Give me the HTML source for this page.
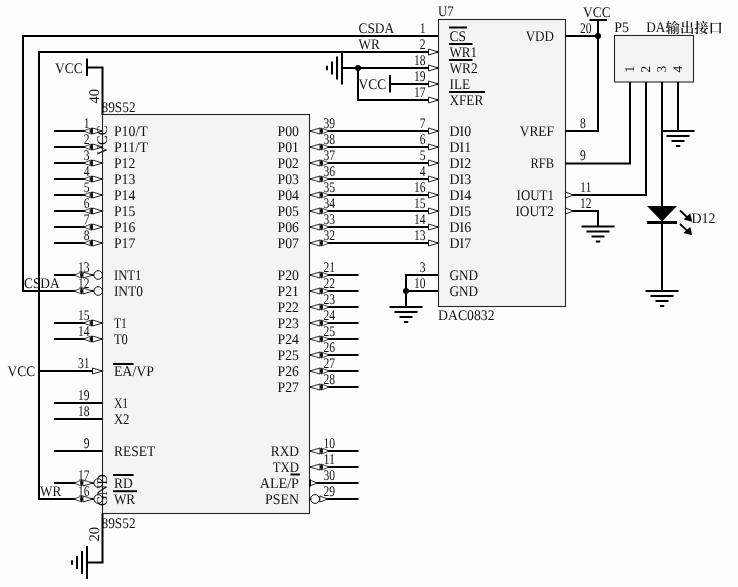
<!DOCTYPE html>
<html><head><meta charset="utf-8"><title>DAC0832 schematic</title>
<style>
html,body{margin:0;padding:0;background:#fdfdfd;}
body{width:738px;height:587px;overflow:hidden;}
svg{display:block;}
text{font-family:"Liberation Serif",serif;fill:#111;text-rendering:geometricPrecision;}
svg{will-change:transform;transform:translateZ(0);}
</style></head><body>
<svg width="738" height="587" viewBox="0 0 738 587">
<rect width="738" height="587" fill="#fdfdfd"/>
<polyline points="438,36 23,36 23,291 54,291" fill="none" stroke="#000" stroke-width="2" stroke-linejoin="miter"/>
<polyline points="438,52 39,52 39,499 54,499" fill="none" stroke="#000" stroke-width="2" stroke-linejoin="miter"/>
<line x1="39" y1="371" x2="54" y2="371" stroke="#000" stroke-width="2" stroke-linecap="butt"/>
<rect x="102.5" y="114.5" width="207.0" height="399.0" fill="#f4f4f4" stroke="#262626" stroke-width="1.1"/>
<polyline points="87,67.5 102.5,67.5 102.5,115" fill="none" stroke="#000" stroke-width="2" stroke-linejoin="miter"/>
<line x1="87" y1="58.5" x2="87" y2="76" stroke="#000" stroke-width="2" stroke-linecap="butt"/>
<text x="55" y="72.5" text-anchor="start" font-size="14.67" textLength="27.6" lengthAdjust="spacingAndGlyphs">VCC</text>
<text x="99" y="103.5" text-anchor="start" font-size="14.67" transform="rotate(-90 99 103.5)">40</text>
<text x="101.5" y="112.3" text-anchor="start" font-size="14.67" textLength="34.1" lengthAdjust="spacingAndGlyphs">89S52</text>
<polyline points="102.5,513 102.5,562.5 87,562.5" fill="none" stroke="#000" stroke-width="2" stroke-linejoin="miter"/>
<line x1="87" y1="546.0" x2="87" y2="579.0" stroke="#000" stroke-width="2" stroke-linecap="butt"/>
<line x1="82" y1="551.0" x2="82" y2="574.0" stroke="#000" stroke-width="2" stroke-linecap="butt"/>
<line x1="77" y1="556.0" x2="77" y2="569.0" stroke="#000" stroke-width="2" stroke-linecap="butt"/>
<line x1="72" y1="560.3" x2="72" y2="564.7" stroke="#000" stroke-width="2" stroke-linecap="butt"/>
<text x="99" y="541.5" text-anchor="start" font-size="14.67" transform="rotate(-90 99 541.5)">20</text>
<text x="101.5" y="527.6" text-anchor="start" font-size="14.67" textLength="34.1" lengthAdjust="spacingAndGlyphs">89S52</text>
<line x1="54" y1="131" x2="102.5" y2="131" stroke="#000" stroke-width="2" stroke-linecap="butt"/>
<polygon points="102.5,131 92.5,128 92.5,134" fill="#fff" stroke="#000" stroke-width="0.85" stroke-linejoin="miter"/>
<line x1="91.3" y1="127.8" x2="91.3" y2="134.2" stroke="#000" stroke-width="1.4" stroke-linecap="butt"/>
<polygon points="83.5,131 90.1,128.4 90.1,133.6" fill="#fff" stroke="#000" stroke-width="0.75" stroke-linejoin="miter"/>
<text x="89.5" y="128.4" text-anchor="end" font-size="14.67" textLength="5.8" lengthAdjust="spacingAndGlyphs">1</text>
<text x="113.9" y="136.0" text-anchor="start" font-size="14.67" textLength="33.9" lengthAdjust="spacingAndGlyphs">P10/T</text>
<line x1="54" y1="147" x2="102.5" y2="147" stroke="#000" stroke-width="2" stroke-linecap="butt"/>
<polygon points="102.5,147 92.5,144 92.5,150" fill="#fff" stroke="#000" stroke-width="0.85" stroke-linejoin="miter"/>
<line x1="91.3" y1="143.8" x2="91.3" y2="150.2" stroke="#000" stroke-width="1.4" stroke-linecap="butt"/>
<polygon points="83.5,147 90.1,144.4 90.1,149.6" fill="#fff" stroke="#000" stroke-width="0.75" stroke-linejoin="miter"/>
<text x="89.5" y="144.4" text-anchor="end" font-size="14.67" textLength="5.8" lengthAdjust="spacingAndGlyphs">2</text>
<text x="113.9" y="152.0" text-anchor="start" font-size="14.67" textLength="33.9" lengthAdjust="spacingAndGlyphs">P11/T</text>
<line x1="54" y1="163" x2="102.5" y2="163" stroke="#000" stroke-width="2" stroke-linecap="butt"/>
<polygon points="102.5,163 92.5,160 92.5,166" fill="#fff" stroke="#000" stroke-width="0.85" stroke-linejoin="miter"/>
<line x1="91.3" y1="159.8" x2="91.3" y2="166.2" stroke="#000" stroke-width="1.4" stroke-linecap="butt"/>
<polygon points="83.5,163 90.1,160.4 90.1,165.6" fill="#fff" stroke="#000" stroke-width="0.75" stroke-linejoin="miter"/>
<text x="89.5" y="160.4" text-anchor="end" font-size="14.67" textLength="5.8" lengthAdjust="spacingAndGlyphs">3</text>
<text x="113.9" y="168.0" text-anchor="start" font-size="14.67" textLength="21.4" lengthAdjust="spacingAndGlyphs">P12</text>
<line x1="54" y1="179" x2="102.5" y2="179" stroke="#000" stroke-width="2" stroke-linecap="butt"/>
<polygon points="102.5,179 92.5,176 92.5,182" fill="#fff" stroke="#000" stroke-width="0.85" stroke-linejoin="miter"/>
<line x1="91.3" y1="175.8" x2="91.3" y2="182.2" stroke="#000" stroke-width="1.4" stroke-linecap="butt"/>
<polygon points="83.5,179 90.1,176.4 90.1,181.6" fill="#fff" stroke="#000" stroke-width="0.75" stroke-linejoin="miter"/>
<text x="89.5" y="176.4" text-anchor="end" font-size="14.67" textLength="5.8" lengthAdjust="spacingAndGlyphs">4</text>
<text x="113.9" y="184.0" text-anchor="start" font-size="14.67" textLength="21.4" lengthAdjust="spacingAndGlyphs">P13</text>
<line x1="54" y1="195" x2="102.5" y2="195" stroke="#000" stroke-width="2" stroke-linecap="butt"/>
<polygon points="102.5,195 92.5,192 92.5,198" fill="#fff" stroke="#000" stroke-width="0.85" stroke-linejoin="miter"/>
<line x1="91.3" y1="191.8" x2="91.3" y2="198.2" stroke="#000" stroke-width="1.4" stroke-linecap="butt"/>
<polygon points="83.5,195 90.1,192.4 90.1,197.6" fill="#fff" stroke="#000" stroke-width="0.75" stroke-linejoin="miter"/>
<text x="89.5" y="192.4" text-anchor="end" font-size="14.67" textLength="5.8" lengthAdjust="spacingAndGlyphs">5</text>
<text x="113.9" y="200.0" text-anchor="start" font-size="14.67" textLength="21.4" lengthAdjust="spacingAndGlyphs">P14</text>
<line x1="54" y1="211" x2="102.5" y2="211" stroke="#000" stroke-width="2" stroke-linecap="butt"/>
<polygon points="102.5,211 92.5,208 92.5,214" fill="#fff" stroke="#000" stroke-width="0.85" stroke-linejoin="miter"/>
<line x1="91.3" y1="207.8" x2="91.3" y2="214.2" stroke="#000" stroke-width="1.4" stroke-linecap="butt"/>
<polygon points="83.5,211 90.1,208.4 90.1,213.6" fill="#fff" stroke="#000" stroke-width="0.75" stroke-linejoin="miter"/>
<text x="89.5" y="208.4" text-anchor="end" font-size="14.67" textLength="5.8" lengthAdjust="spacingAndGlyphs">6</text>
<text x="113.9" y="216.0" text-anchor="start" font-size="14.67" textLength="21.4" lengthAdjust="spacingAndGlyphs">P15</text>
<line x1="54" y1="227" x2="102.5" y2="227" stroke="#000" stroke-width="2" stroke-linecap="butt"/>
<polygon points="102.5,227 92.5,224 92.5,230" fill="#fff" stroke="#000" stroke-width="0.85" stroke-linejoin="miter"/>
<line x1="91.3" y1="223.8" x2="91.3" y2="230.2" stroke="#000" stroke-width="1.4" stroke-linecap="butt"/>
<polygon points="83.5,227 90.1,224.4 90.1,229.6" fill="#fff" stroke="#000" stroke-width="0.75" stroke-linejoin="miter"/>
<text x="89.5" y="224.4" text-anchor="end" font-size="14.67" textLength="5.8" lengthAdjust="spacingAndGlyphs">7</text>
<text x="113.9" y="232.0" text-anchor="start" font-size="14.67" textLength="21.4" lengthAdjust="spacingAndGlyphs">P16</text>
<line x1="54" y1="243" x2="102.5" y2="243" stroke="#000" stroke-width="2" stroke-linecap="butt"/>
<polygon points="102.5,243 92.5,240 92.5,246" fill="#fff" stroke="#000" stroke-width="0.85" stroke-linejoin="miter"/>
<line x1="91.3" y1="239.8" x2="91.3" y2="246.2" stroke="#000" stroke-width="1.4" stroke-linecap="butt"/>
<polygon points="83.5,243 90.1,240.4 90.1,245.6" fill="#fff" stroke="#000" stroke-width="0.75" stroke-linejoin="miter"/>
<text x="89.5" y="240.4" text-anchor="end" font-size="14.67" textLength="5.8" lengthAdjust="spacingAndGlyphs">8</text>
<text x="113.9" y="248.0" text-anchor="start" font-size="14.67" textLength="21.4" lengthAdjust="spacingAndGlyphs">P17</text>
<line x1="54" y1="275" x2="102.5" y2="275" stroke="#000" stroke-width="2" stroke-linecap="butt"/>
<circle cx="98.2" cy="275" r="4.3" fill="#fff" stroke="#000" stroke-width="1"/>
<polygon points="93.0,275 83.0,272 83.0,278" fill="#fff" stroke="#000" stroke-width="0.85" stroke-linejoin="miter"/>
<line x1="81.8" y1="271.8" x2="81.8" y2="278.2" stroke="#000" stroke-width="1.4" stroke-linecap="butt"/>
<polygon points="74.0,275 80.6,272.4 80.6,277.6" fill="#fff" stroke="#000" stroke-width="0.75" stroke-linejoin="miter"/>
<text x="89.5" y="272.4" text-anchor="end" font-size="14.67" textLength="11.6" lengthAdjust="spacingAndGlyphs">13</text>
<text x="113.9" y="280.0" text-anchor="start" font-size="14.67" textLength="27.6" lengthAdjust="spacingAndGlyphs">INT1</text>
<line x1="54" y1="291" x2="102.5" y2="291" stroke="#000" stroke-width="2" stroke-linecap="butt"/>
<circle cx="98.2" cy="291" r="4.3" fill="#fff" stroke="#000" stroke-width="1"/>
<polygon points="93.0,291 83.0,288 83.0,294" fill="#fff" stroke="#000" stroke-width="0.85" stroke-linejoin="miter"/>
<line x1="81.8" y1="287.8" x2="81.8" y2="294.2" stroke="#000" stroke-width="1.4" stroke-linecap="butt"/>
<polygon points="74.0,291 80.6,288.4 80.6,293.6" fill="#fff" stroke="#000" stroke-width="0.75" stroke-linejoin="miter"/>
<text x="89.5" y="288.4" text-anchor="end" font-size="14.67" textLength="11.6" lengthAdjust="spacingAndGlyphs">12</text>
<text x="113.9" y="296.0" text-anchor="start" font-size="14.67" textLength="29.0" lengthAdjust="spacingAndGlyphs">INT0</text>
<line x1="54" y1="323" x2="102.5" y2="323" stroke="#000" stroke-width="2" stroke-linecap="butt"/>
<polygon points="102.5,323 92.5,320 92.5,326" fill="#fff" stroke="#000" stroke-width="0.85" stroke-linejoin="miter"/>
<line x1="91.3" y1="319.8" x2="91.3" y2="326.2" stroke="#000" stroke-width="1.4" stroke-linecap="butt"/>
<polygon points="83.5,323 90.1,320.4 90.1,325.6" fill="#fff" stroke="#000" stroke-width="0.75" stroke-linejoin="miter"/>
<text x="89.5" y="320.4" text-anchor="end" font-size="14.67" textLength="11.6" lengthAdjust="spacingAndGlyphs">15</text>
<text x="113.9" y="328.0" text-anchor="start" font-size="14.67" textLength="12.9" lengthAdjust="spacingAndGlyphs">T1</text>
<line x1="54" y1="339" x2="102.5" y2="339" stroke="#000" stroke-width="2" stroke-linecap="butt"/>
<polygon points="102.5,339 92.5,336 92.5,342" fill="#fff" stroke="#000" stroke-width="0.85" stroke-linejoin="miter"/>
<line x1="91.3" y1="335.8" x2="91.3" y2="342.2" stroke="#000" stroke-width="1.4" stroke-linecap="butt"/>
<polygon points="83.5,339 90.1,336.4 90.1,341.6" fill="#fff" stroke="#000" stroke-width="0.75" stroke-linejoin="miter"/>
<text x="89.5" y="336.4" text-anchor="end" font-size="14.67" textLength="11.6" lengthAdjust="spacingAndGlyphs">14</text>
<text x="113.9" y="344.0" text-anchor="start" font-size="14.67" textLength="13.9" lengthAdjust="spacingAndGlyphs">T0</text>
<line x1="54" y1="371" x2="102.5" y2="371" stroke="#000" stroke-width="2" stroke-linecap="butt"/>
<polygon points="102.5,371 92.5,368 92.5,374" fill="#fff" stroke="#000" stroke-width="0.85" stroke-linejoin="miter"/>
<text x="89.5" y="368.4" text-anchor="end" font-size="14.67" textLength="11.6" lengthAdjust="spacingAndGlyphs">31</text>
<text x="113.9" y="376.0" text-anchor="start" font-size="14.67" textLength="40.1" lengthAdjust="spacingAndGlyphs">EA/VP</text>
<line x1="54" y1="403" x2="102.5" y2="403" stroke="#000" stroke-width="2" stroke-linecap="butt"/>
<text x="89.5" y="400.4" text-anchor="end" font-size="14.67" textLength="11.6" lengthAdjust="spacingAndGlyphs">19</text>
<text x="113.9" y="408.0" text-anchor="start" font-size="14.67" textLength="14.3" lengthAdjust="spacingAndGlyphs">X1</text>
<line x1="54" y1="419" x2="102.5" y2="419" stroke="#000" stroke-width="2" stroke-linecap="butt"/>
<text x="89.5" y="416.4" text-anchor="end" font-size="14.67" textLength="11.6" lengthAdjust="spacingAndGlyphs">18</text>
<text x="113.9" y="424.0" text-anchor="start" font-size="14.67" textLength="15.6" lengthAdjust="spacingAndGlyphs">X2</text>
<line x1="54" y1="451" x2="102.5" y2="451" stroke="#000" stroke-width="2" stroke-linecap="butt"/>
<text x="89.5" y="448.4" text-anchor="end" font-size="14.67" textLength="5.8" lengthAdjust="spacingAndGlyphs">9</text>
<text x="113.9" y="456.0" text-anchor="start" font-size="14.67" textLength="41.3" lengthAdjust="spacingAndGlyphs">RESET</text>
<line x1="54" y1="483" x2="102.5" y2="483" stroke="#000" stroke-width="2" stroke-linecap="butt"/>
<circle cx="98.2" cy="483" r="4.3" fill="#fff" stroke="#000" stroke-width="1"/>
<polygon points="93.0,483 83.0,480 83.0,486" fill="#fff" stroke="#000" stroke-width="0.85" stroke-linejoin="miter"/>
<line x1="81.8" y1="479.8" x2="81.8" y2="486.2" stroke="#000" stroke-width="1.4" stroke-linecap="butt"/>
<polygon points="74.0,483 80.6,480.4 80.6,485.6" fill="#fff" stroke="#000" stroke-width="0.75" stroke-linejoin="miter"/>
<text x="89.5" y="480.4" text-anchor="end" font-size="14.67" textLength="11.6" lengthAdjust="spacingAndGlyphs">17</text>
<text x="113.9" y="488.0" text-anchor="start" font-size="14.67" textLength="18.8" lengthAdjust="spacingAndGlyphs">RD</text>
<line x1="54" y1="499" x2="102.5" y2="499" stroke="#000" stroke-width="2" stroke-linecap="butt"/>
<circle cx="98.2" cy="499" r="4.3" fill="#fff" stroke="#000" stroke-width="1"/>
<polygon points="93.0,499 83.0,496 83.0,502" fill="#fff" stroke="#000" stroke-width="0.85" stroke-linejoin="miter"/>
<line x1="81.8" y1="495.8" x2="81.8" y2="502.2" stroke="#000" stroke-width="1.4" stroke-linecap="butt"/>
<polygon points="74.0,499 80.6,496.4 80.6,501.6" fill="#fff" stroke="#000" stroke-width="0.75" stroke-linejoin="miter"/>
<text x="89.5" y="496.4" text-anchor="end" font-size="14.67" textLength="11.6" lengthAdjust="spacingAndGlyphs">16</text>
<text x="113.9" y="504.0" text-anchor="start" font-size="14.67" textLength="21.2" lengthAdjust="spacingAndGlyphs">WR</text>
<line x1="113.2" y1="364" x2="133.6" y2="364" stroke="#000" stroke-width="2" stroke-linecap="butt"/>
<line x1="113" y1="475" x2="133.6" y2="475" stroke="#000" stroke-width="2" stroke-linecap="butt"/>
<line x1="113" y1="491.2" x2="137" y2="491.2" stroke="#000" stroke-width="2" stroke-linecap="butt"/>
<line x1="309.5" y1="131" x2="438" y2="131" stroke="#000" stroke-width="2" stroke-linecap="butt"/>
<polygon points="309.5,131 320.0,128 320.0,134" fill="#fff" stroke="#000" stroke-width="0.85" stroke-linejoin="miter"/>
<line x1="321.2" y1="127.8" x2="321.2" y2="134.2" stroke="#000" stroke-width="1.4" stroke-linecap="butt"/>
<polygon points="329.3,131 322.5,128.4 322.5,133.6" fill="#fff" stroke="#000" stroke-width="0.75" stroke-linejoin="miter"/>
<text x="323.5" y="128.4" text-anchor="start" font-size="14.67" textLength="11.6" lengthAdjust="spacingAndGlyphs">39</text>
<text x="299" y="136.0" text-anchor="end" font-size="14.67" textLength="21.4" lengthAdjust="spacingAndGlyphs">P00</text>
<line x1="309.5" y1="147" x2="438" y2="147" stroke="#000" stroke-width="2" stroke-linecap="butt"/>
<polygon points="309.5,147 320.0,144 320.0,150" fill="#fff" stroke="#000" stroke-width="0.85" stroke-linejoin="miter"/>
<line x1="321.2" y1="143.8" x2="321.2" y2="150.2" stroke="#000" stroke-width="1.4" stroke-linecap="butt"/>
<polygon points="329.3,147 322.5,144.4 322.5,149.6" fill="#fff" stroke="#000" stroke-width="0.75" stroke-linejoin="miter"/>
<text x="323.5" y="144.4" text-anchor="start" font-size="14.67" textLength="11.6" lengthAdjust="spacingAndGlyphs">38</text>
<text x="299" y="152.0" text-anchor="end" font-size="14.67" textLength="21.4" lengthAdjust="spacingAndGlyphs">P01</text>
<line x1="309.5" y1="163" x2="438" y2="163" stroke="#000" stroke-width="2" stroke-linecap="butt"/>
<polygon points="309.5,163 320.0,160 320.0,166" fill="#fff" stroke="#000" stroke-width="0.85" stroke-linejoin="miter"/>
<line x1="321.2" y1="159.8" x2="321.2" y2="166.2" stroke="#000" stroke-width="1.4" stroke-linecap="butt"/>
<polygon points="329.3,163 322.5,160.4 322.5,165.6" fill="#fff" stroke="#000" stroke-width="0.75" stroke-linejoin="miter"/>
<text x="323.5" y="160.4" text-anchor="start" font-size="14.67" textLength="11.6" lengthAdjust="spacingAndGlyphs">37</text>
<text x="299" y="168.0" text-anchor="end" font-size="14.67" textLength="21.4" lengthAdjust="spacingAndGlyphs">P02</text>
<line x1="309.5" y1="179" x2="438" y2="179" stroke="#000" stroke-width="2" stroke-linecap="butt"/>
<polygon points="309.5,179 320.0,176 320.0,182" fill="#fff" stroke="#000" stroke-width="0.85" stroke-linejoin="miter"/>
<line x1="321.2" y1="175.8" x2="321.2" y2="182.2" stroke="#000" stroke-width="1.4" stroke-linecap="butt"/>
<polygon points="329.3,179 322.5,176.4 322.5,181.6" fill="#fff" stroke="#000" stroke-width="0.75" stroke-linejoin="miter"/>
<text x="323.5" y="176.4" text-anchor="start" font-size="14.67" textLength="11.6" lengthAdjust="spacingAndGlyphs">36</text>
<text x="299" y="184.0" text-anchor="end" font-size="14.67" textLength="21.4" lengthAdjust="spacingAndGlyphs">P03</text>
<line x1="309.5" y1="195" x2="438" y2="195" stroke="#000" stroke-width="2" stroke-linecap="butt"/>
<polygon points="309.5,195 320.0,192 320.0,198" fill="#fff" stroke="#000" stroke-width="0.85" stroke-linejoin="miter"/>
<line x1="321.2" y1="191.8" x2="321.2" y2="198.2" stroke="#000" stroke-width="1.4" stroke-linecap="butt"/>
<polygon points="329.3,195 322.5,192.4 322.5,197.6" fill="#fff" stroke="#000" stroke-width="0.75" stroke-linejoin="miter"/>
<text x="323.5" y="192.4" text-anchor="start" font-size="14.67" textLength="11.6" lengthAdjust="spacingAndGlyphs">35</text>
<text x="299" y="200.0" text-anchor="end" font-size="14.67" textLength="21.4" lengthAdjust="spacingAndGlyphs">P04</text>
<line x1="309.5" y1="211" x2="438" y2="211" stroke="#000" stroke-width="2" stroke-linecap="butt"/>
<polygon points="309.5,211 320.0,208 320.0,214" fill="#fff" stroke="#000" stroke-width="0.85" stroke-linejoin="miter"/>
<line x1="321.2" y1="207.8" x2="321.2" y2="214.2" stroke="#000" stroke-width="1.4" stroke-linecap="butt"/>
<polygon points="329.3,211 322.5,208.4 322.5,213.6" fill="#fff" stroke="#000" stroke-width="0.75" stroke-linejoin="miter"/>
<text x="323.5" y="208.4" text-anchor="start" font-size="14.67" textLength="11.6" lengthAdjust="spacingAndGlyphs">34</text>
<text x="299" y="216.0" text-anchor="end" font-size="14.67" textLength="21.4" lengthAdjust="spacingAndGlyphs">P05</text>
<line x1="309.5" y1="227" x2="438" y2="227" stroke="#000" stroke-width="2" stroke-linecap="butt"/>
<polygon points="309.5,227 320.0,224 320.0,230" fill="#fff" stroke="#000" stroke-width="0.85" stroke-linejoin="miter"/>
<line x1="321.2" y1="223.8" x2="321.2" y2="230.2" stroke="#000" stroke-width="1.4" stroke-linecap="butt"/>
<polygon points="329.3,227 322.5,224.4 322.5,229.6" fill="#fff" stroke="#000" stroke-width="0.75" stroke-linejoin="miter"/>
<text x="323.5" y="224.4" text-anchor="start" font-size="14.67" textLength="11.6" lengthAdjust="spacingAndGlyphs">33</text>
<text x="299" y="232.0" text-anchor="end" font-size="14.67" textLength="21.4" lengthAdjust="spacingAndGlyphs">P06</text>
<line x1="309.5" y1="243" x2="438" y2="243" stroke="#000" stroke-width="2" stroke-linecap="butt"/>
<polygon points="309.5,243 320.0,240 320.0,246" fill="#fff" stroke="#000" stroke-width="0.85" stroke-linejoin="miter"/>
<line x1="321.2" y1="239.8" x2="321.2" y2="246.2" stroke="#000" stroke-width="1.4" stroke-linecap="butt"/>
<polygon points="329.3,243 322.5,240.4 322.5,245.6" fill="#fff" stroke="#000" stroke-width="0.75" stroke-linejoin="miter"/>
<text x="323.5" y="240.4" text-anchor="start" font-size="14.67" textLength="11.6" lengthAdjust="spacingAndGlyphs">32</text>
<text x="299" y="248.0" text-anchor="end" font-size="14.67" textLength="21.4" lengthAdjust="spacingAndGlyphs">P07</text>
<line x1="309.5" y1="275" x2="358.5" y2="275" stroke="#000" stroke-width="2" stroke-linecap="butt"/>
<polygon points="309.5,275 320.0,272 320.0,278" fill="#fff" stroke="#000" stroke-width="0.85" stroke-linejoin="miter"/>
<line x1="321.2" y1="271.8" x2="321.2" y2="278.2" stroke="#000" stroke-width="1.4" stroke-linecap="butt"/>
<polygon points="329.3,275 322.5,272.4 322.5,277.6" fill="#fff" stroke="#000" stroke-width="0.75" stroke-linejoin="miter"/>
<text x="323.5" y="272.4" text-anchor="start" font-size="14.67" textLength="11.6" lengthAdjust="spacingAndGlyphs">21</text>
<text x="299" y="280.0" text-anchor="end" font-size="14.67" textLength="21.4" lengthAdjust="spacingAndGlyphs">P20</text>
<line x1="309.5" y1="291" x2="358.5" y2="291" stroke="#000" stroke-width="2" stroke-linecap="butt"/>
<polygon points="309.5,291 320.0,288 320.0,294" fill="#fff" stroke="#000" stroke-width="0.85" stroke-linejoin="miter"/>
<line x1="321.2" y1="287.8" x2="321.2" y2="294.2" stroke="#000" stroke-width="1.4" stroke-linecap="butt"/>
<polygon points="329.3,291 322.5,288.4 322.5,293.6" fill="#fff" stroke="#000" stroke-width="0.75" stroke-linejoin="miter"/>
<text x="323.5" y="288.4" text-anchor="start" font-size="14.67" textLength="11.6" lengthAdjust="spacingAndGlyphs">22</text>
<text x="299" y="296.0" text-anchor="end" font-size="14.67" textLength="21.4" lengthAdjust="spacingAndGlyphs">P21</text>
<line x1="309.5" y1="307" x2="358.5" y2="307" stroke="#000" stroke-width="2" stroke-linecap="butt"/>
<polygon points="309.5,307 320.0,304 320.0,310" fill="#fff" stroke="#000" stroke-width="0.85" stroke-linejoin="miter"/>
<line x1="321.2" y1="303.8" x2="321.2" y2="310.2" stroke="#000" stroke-width="1.4" stroke-linecap="butt"/>
<polygon points="329.3,307 322.5,304.4 322.5,309.6" fill="#fff" stroke="#000" stroke-width="0.75" stroke-linejoin="miter"/>
<text x="323.5" y="304.4" text-anchor="start" font-size="14.67" textLength="11.6" lengthAdjust="spacingAndGlyphs">23</text>
<text x="299" y="312.0" text-anchor="end" font-size="14.67" textLength="21.4" lengthAdjust="spacingAndGlyphs">P22</text>
<line x1="309.5" y1="323" x2="358.5" y2="323" stroke="#000" stroke-width="2" stroke-linecap="butt"/>
<polygon points="309.5,323 320.0,320 320.0,326" fill="#fff" stroke="#000" stroke-width="0.85" stroke-linejoin="miter"/>
<line x1="321.2" y1="319.8" x2="321.2" y2="326.2" stroke="#000" stroke-width="1.4" stroke-linecap="butt"/>
<polygon points="329.3,323 322.5,320.4 322.5,325.6" fill="#fff" stroke="#000" stroke-width="0.75" stroke-linejoin="miter"/>
<text x="323.5" y="320.4" text-anchor="start" font-size="14.67" textLength="11.6" lengthAdjust="spacingAndGlyphs">24</text>
<text x="299" y="328.0" text-anchor="end" font-size="14.67" textLength="21.4" lengthAdjust="spacingAndGlyphs">P23</text>
<line x1="309.5" y1="339" x2="358.5" y2="339" stroke="#000" stroke-width="2" stroke-linecap="butt"/>
<polygon points="309.5,339 320.0,336 320.0,342" fill="#fff" stroke="#000" stroke-width="0.85" stroke-linejoin="miter"/>
<line x1="321.2" y1="335.8" x2="321.2" y2="342.2" stroke="#000" stroke-width="1.4" stroke-linecap="butt"/>
<polygon points="329.3,339 322.5,336.4 322.5,341.6" fill="#fff" stroke="#000" stroke-width="0.75" stroke-linejoin="miter"/>
<text x="323.5" y="336.4" text-anchor="start" font-size="14.67" textLength="11.6" lengthAdjust="spacingAndGlyphs">25</text>
<text x="299" y="344.0" text-anchor="end" font-size="14.67" textLength="21.4" lengthAdjust="spacingAndGlyphs">P24</text>
<line x1="309.5" y1="355" x2="358.5" y2="355" stroke="#000" stroke-width="2" stroke-linecap="butt"/>
<polygon points="309.5,355 320.0,352 320.0,358" fill="#fff" stroke="#000" stroke-width="0.85" stroke-linejoin="miter"/>
<line x1="321.2" y1="351.8" x2="321.2" y2="358.2" stroke="#000" stroke-width="1.4" stroke-linecap="butt"/>
<polygon points="329.3,355 322.5,352.4 322.5,357.6" fill="#fff" stroke="#000" stroke-width="0.75" stroke-linejoin="miter"/>
<text x="323.5" y="352.4" text-anchor="start" font-size="14.67" textLength="11.6" lengthAdjust="spacingAndGlyphs">26</text>
<text x="299" y="360.0" text-anchor="end" font-size="14.67" textLength="21.4" lengthAdjust="spacingAndGlyphs">P25</text>
<line x1="309.5" y1="371" x2="358.5" y2="371" stroke="#000" stroke-width="2" stroke-linecap="butt"/>
<polygon points="309.5,371 320.0,368 320.0,374" fill="#fff" stroke="#000" stroke-width="0.85" stroke-linejoin="miter"/>
<line x1="321.2" y1="367.8" x2="321.2" y2="374.2" stroke="#000" stroke-width="1.4" stroke-linecap="butt"/>
<polygon points="329.3,371 322.5,368.4 322.5,373.6" fill="#fff" stroke="#000" stroke-width="0.75" stroke-linejoin="miter"/>
<text x="323.5" y="368.4" text-anchor="start" font-size="14.67" textLength="11.6" lengthAdjust="spacingAndGlyphs">27</text>
<text x="299" y="376.0" text-anchor="end" font-size="14.67" textLength="21.4" lengthAdjust="spacingAndGlyphs">P26</text>
<line x1="309.5" y1="387" x2="358.5" y2="387" stroke="#000" stroke-width="2" stroke-linecap="butt"/>
<polygon points="309.5,387 320.0,384 320.0,390" fill="#fff" stroke="#000" stroke-width="0.85" stroke-linejoin="miter"/>
<line x1="321.2" y1="383.8" x2="321.2" y2="390.2" stroke="#000" stroke-width="1.4" stroke-linecap="butt"/>
<polygon points="329.3,387 322.5,384.4 322.5,389.6" fill="#fff" stroke="#000" stroke-width="0.75" stroke-linejoin="miter"/>
<text x="323.5" y="384.4" text-anchor="start" font-size="14.67" textLength="11.6" lengthAdjust="spacingAndGlyphs">28</text>
<text x="299" y="392.0" text-anchor="end" font-size="14.67" textLength="21.4" lengthAdjust="spacingAndGlyphs">P27</text>
<line x1="309.5" y1="451" x2="358.5" y2="451" stroke="#000" stroke-width="2" stroke-linecap="butt"/>
<polygon points="309.5,451 320.0,448 320.0,454" fill="#fff" stroke="#000" stroke-width="0.85" stroke-linejoin="miter"/>
<line x1="321.2" y1="447.8" x2="321.2" y2="454.2" stroke="#000" stroke-width="1.4" stroke-linecap="butt"/>
<polygon points="329.3,451 322.5,448.4 322.5,453.6" fill="#fff" stroke="#000" stroke-width="0.75" stroke-linejoin="miter"/>
<text x="323.5" y="448.4" text-anchor="start" font-size="14.67" textLength="11.6" lengthAdjust="spacingAndGlyphs">10</text>
<text x="299" y="456.0" text-anchor="end" font-size="14.67" textLength="28.3" lengthAdjust="spacingAndGlyphs">RXD</text>
<line x1="309.5" y1="467" x2="358.5" y2="467" stroke="#000" stroke-width="2" stroke-linecap="butt"/>
<polygon points="309.5,467 320.0,464 320.0,470" fill="#fff" stroke="#000" stroke-width="0.85" stroke-linejoin="miter"/>
<line x1="321.2" y1="463.8" x2="321.2" y2="470.2" stroke="#000" stroke-width="1.4" stroke-linecap="butt"/>
<polygon points="329.3,467 322.5,464.4 322.5,469.6" fill="#fff" stroke="#000" stroke-width="0.75" stroke-linejoin="miter"/>
<text x="323.5" y="464.4" text-anchor="start" font-size="14.67" textLength="11.6" lengthAdjust="spacingAndGlyphs">11</text>
<text x="299" y="472.0" text-anchor="end" font-size="14.67" textLength="26.2" lengthAdjust="spacingAndGlyphs">TXD</text>
<line x1="309.5" y1="483" x2="358.5" y2="483" stroke="#000" stroke-width="2" stroke-linecap="butt"/>
<polygon points="317.5,483 309.5,480 309.5,486" fill="#fff" stroke="#000" stroke-width="0.85" stroke-linejoin="miter"/>
<line x1="310.0" y1="479.5" x2="310.0" y2="486.5" stroke="#000" stroke-width="2" stroke-linecap="butt"/>
<text x="323.5" y="480.4" text-anchor="start" font-size="14.67" textLength="11.6" lengthAdjust="spacingAndGlyphs">30</text>
<text x="299" y="488.0" text-anchor="end" font-size="14.67" textLength="39.3" lengthAdjust="spacingAndGlyphs">ALE/P</text>
<line x1="309.5" y1="499" x2="358.5" y2="499" stroke="#000" stroke-width="2" stroke-linecap="butt"/>
<circle cx="315.1" cy="499" r="4.4" fill="#fff" stroke="#000" stroke-width="1"/>
<polygon points="327.8,499 319.8,496 319.8,502" fill="#fff" stroke="#000" stroke-width="0.85" stroke-linejoin="miter"/>
<text x="323.5" y="496.4" text-anchor="start" font-size="14.67" textLength="11.6" lengthAdjust="spacingAndGlyphs">29</text>
<text x="299" y="504.0" text-anchor="end" font-size="14.67" textLength="34.0" lengthAdjust="spacingAndGlyphs">PSEN</text>
<line x1="290.5" y1="474.5" x2="299.8" y2="474.5" stroke="#000" stroke-width="2" stroke-linecap="butt"/>
<text x="107" y="155.5" text-anchor="start" font-size="14.67" transform="rotate(-90 107 155.5)">VCC</text>
<text x="107" y="506" text-anchor="start" font-size="14.67" transform="rotate(-90 107 506)">GND</text>
<text x="7.5" y="375.5" text-anchor="start" font-size="14.67" textLength="27.6" lengthAdjust="spacingAndGlyphs">VCC</text>
<text x="24" y="287.6" text-anchor="start" font-size="14.67" textLength="35.6" lengthAdjust="spacingAndGlyphs">CSDA</text>
<text x="40" y="495.5" text-anchor="start" font-size="14.67" textLength="21.2" lengthAdjust="spacingAndGlyphs">WR</text>
<rect x="438.5" y="19.5" width="127.0" height="287.0" fill="#f4f4f4" stroke="#262626" stroke-width="1.1"/>
<text x="438" y="16" text-anchor="start" font-size="14.67" textLength="15.6" lengthAdjust="spacingAndGlyphs">U7</text>
<text x="438" y="320" text-anchor="start" font-size="14.67" textLength="56.6" lengthAdjust="spacingAndGlyphs">DAC0832</text>
<line x1="449" y1="27.5" x2="467" y2="27.5" stroke="#000" stroke-width="2" stroke-linecap="butt"/>
<line x1="449" y1="44" x2="472.5" y2="44" stroke="#000" stroke-width="2" stroke-linecap="butt"/>
<line x1="449" y1="60" x2="472.5" y2="60" stroke="#000" stroke-width="2" stroke-linecap="butt"/>
<line x1="449" y1="92" x2="485" y2="92" stroke="#000" stroke-width="2" stroke-linecap="butt"/>
<line x1="342" y1="68" x2="438" y2="68" stroke="#000" stroke-width="2" stroke-linecap="butt"/>
<line x1="342" y1="51.5" x2="342" y2="84.5" stroke="#000" stroke-width="2" stroke-linecap="butt"/>
<line x1="337" y1="56.5" x2="337" y2="79.5" stroke="#000" stroke-width="2" stroke-linecap="butt"/>
<line x1="332" y1="61.5" x2="332" y2="74.5" stroke="#000" stroke-width="2" stroke-linecap="butt"/>
<line x1="327" y1="65.8" x2="327" y2="70.2" stroke="#000" stroke-width="2" stroke-linecap="butt"/>
<circle cx="358" cy="68" r="3" fill="#000"/>
<polyline points="358,68 358,100 438,100" fill="none" stroke="#000" stroke-width="2" stroke-linejoin="miter"/>
<line x1="390" y1="84" x2="438" y2="84" stroke="#000" stroke-width="2" stroke-linecap="butt"/>
<line x1="390" y1="75" x2="390" y2="92.5" stroke="#000" stroke-width="2" stroke-linecap="butt"/>
<text x="358.5" y="88.5" text-anchor="start" font-size="14.67" textLength="27.6" lengthAdjust="spacingAndGlyphs">VCC</text>
<text x="358.5" y="32.5" text-anchor="start" font-size="14.67" textLength="35.6" lengthAdjust="spacingAndGlyphs">CSDA</text>
<text x="358.5" y="48.5" text-anchor="start" font-size="14.67" textLength="21.2" lengthAdjust="spacingAndGlyphs">WR</text>
<polyline points="438,275 406,275 406,307" fill="none" stroke="#000" stroke-width="2" stroke-linejoin="miter"/>
<line x1="406" y1="291" x2="438" y2="291" stroke="#000" stroke-width="2" stroke-linecap="butt"/>
<circle cx="406" cy="291" r="3" fill="#000"/>
<line x1="389.5" y1="307" x2="422.5" y2="307" stroke="#000" stroke-width="2" stroke-linecap="butt"/>
<line x1="394.5" y1="312" x2="417.5" y2="312" stroke="#000" stroke-width="2" stroke-linecap="butt"/>
<line x1="399.5" y1="317" x2="412.5" y2="317" stroke="#000" stroke-width="2" stroke-linecap="butt"/>
<line x1="403.8" y1="322" x2="408.2" y2="322" stroke="#000" stroke-width="2" stroke-linecap="butt"/>
<text x="425.5" y="33.4" text-anchor="end" font-size="14.67" textLength="5.8" lengthAdjust="spacingAndGlyphs">1</text>
<text x="449.5" y="41.0" text-anchor="start" font-size="14.67" textLength="16.4" lengthAdjust="spacingAndGlyphs">CS</text>
<polygon points="438.5,52 428.5,49 428.5,55" fill="#fff" stroke="#000" stroke-width="0.85" stroke-linejoin="miter"/>
<text x="425.5" y="49.4" text-anchor="end" font-size="14.67" textLength="5.8" lengthAdjust="spacingAndGlyphs">2</text>
<text x="449.5" y="57.0" text-anchor="start" font-size="14.67" textLength="27.4" lengthAdjust="spacingAndGlyphs">WR1</text>
<polygon points="438.5,68 428.5,65 428.5,71" fill="#fff" stroke="#000" stroke-width="0.85" stroke-linejoin="miter"/>
<text x="425.5" y="65.4" text-anchor="end" font-size="14.67" textLength="11.6" lengthAdjust="spacingAndGlyphs">18</text>
<text x="449.5" y="73.0" text-anchor="start" font-size="14.67" textLength="28.2" lengthAdjust="spacingAndGlyphs">WR2</text>
<polygon points="438.5,84 428.5,81 428.5,87" fill="#fff" stroke="#000" stroke-width="0.85" stroke-linejoin="miter"/>
<text x="425.5" y="81.4" text-anchor="end" font-size="14.67" textLength="11.6" lengthAdjust="spacingAndGlyphs">19</text>
<text x="449.5" y="89.0" text-anchor="start" font-size="14.67" textLength="20.5" lengthAdjust="spacingAndGlyphs">ILE</text>
<polygon points="438.5,100 428.5,97 428.5,103" fill="#fff" stroke="#000" stroke-width="0.85" stroke-linejoin="miter"/>
<text x="425.5" y="97.4" text-anchor="end" font-size="14.67" textLength="11.6" lengthAdjust="spacingAndGlyphs">17</text>
<text x="449.5" y="105.0" text-anchor="start" font-size="14.67" textLength="33.7" lengthAdjust="spacingAndGlyphs">XFER</text>
<polygon points="438.5,131 428.5,128 428.5,134" fill="#fff" stroke="#000" stroke-width="0.85" stroke-linejoin="miter"/>
<text x="425.5" y="128.4" text-anchor="end" font-size="14.67" textLength="5.8" lengthAdjust="spacingAndGlyphs">7</text>
<text x="449.5" y="136.0" text-anchor="start" font-size="14.67" textLength="21.6" lengthAdjust="spacingAndGlyphs">DI0</text>
<polygon points="438.5,147 428.5,144 428.5,150" fill="#fff" stroke="#000" stroke-width="0.85" stroke-linejoin="miter"/>
<text x="425.5" y="144.4" text-anchor="end" font-size="14.67" textLength="5.8" lengthAdjust="spacingAndGlyphs">6</text>
<text x="449.5" y="152.0" text-anchor="start" font-size="14.67" textLength="21.6" lengthAdjust="spacingAndGlyphs">DI1</text>
<polygon points="438.5,163 428.5,160 428.5,166" fill="#fff" stroke="#000" stroke-width="0.85" stroke-linejoin="miter"/>
<text x="425.5" y="160.4" text-anchor="end" font-size="14.67" textLength="5.8" lengthAdjust="spacingAndGlyphs">5</text>
<text x="449.5" y="168.0" text-anchor="start" font-size="14.67" textLength="21.6" lengthAdjust="spacingAndGlyphs">DI2</text>
<polygon points="438.5,179 428.5,176 428.5,182" fill="#fff" stroke="#000" stroke-width="0.85" stroke-linejoin="miter"/>
<text x="425.5" y="176.4" text-anchor="end" font-size="14.67" textLength="5.8" lengthAdjust="spacingAndGlyphs">4</text>
<text x="449.5" y="184.0" text-anchor="start" font-size="14.67" textLength="21.6" lengthAdjust="spacingAndGlyphs">DI3</text>
<polygon points="438.5,195 428.5,192 428.5,198" fill="#fff" stroke="#000" stroke-width="0.85" stroke-linejoin="miter"/>
<text x="425.5" y="192.4" text-anchor="end" font-size="14.67" textLength="11.6" lengthAdjust="spacingAndGlyphs">16</text>
<text x="449.5" y="200.0" text-anchor="start" font-size="14.67" textLength="21.6" lengthAdjust="spacingAndGlyphs">DI4</text>
<polygon points="438.5,211 428.5,208 428.5,214" fill="#fff" stroke="#000" stroke-width="0.85" stroke-linejoin="miter"/>
<text x="425.5" y="208.4" text-anchor="end" font-size="14.67" textLength="11.6" lengthAdjust="spacingAndGlyphs">15</text>
<text x="449.5" y="216.0" text-anchor="start" font-size="14.67" textLength="21.6" lengthAdjust="spacingAndGlyphs">DI5</text>
<polygon points="438.5,227 428.5,224 428.5,230" fill="#fff" stroke="#000" stroke-width="0.85" stroke-linejoin="miter"/>
<text x="425.5" y="224.4" text-anchor="end" font-size="14.67" textLength="11.6" lengthAdjust="spacingAndGlyphs">14</text>
<text x="449.5" y="232.0" text-anchor="start" font-size="14.67" textLength="21.6" lengthAdjust="spacingAndGlyphs">DI6</text>
<polygon points="438.5,243 428.5,240 428.5,246" fill="#fff" stroke="#000" stroke-width="0.85" stroke-linejoin="miter"/>
<text x="425.5" y="240.4" text-anchor="end" font-size="14.67" textLength="11.6" lengthAdjust="spacingAndGlyphs">13</text>
<text x="449.5" y="248.0" text-anchor="start" font-size="14.67" textLength="21.6" lengthAdjust="spacingAndGlyphs">DI7</text>
<text x="425.5" y="272.4" text-anchor="end" font-size="14.67" textLength="5.8" lengthAdjust="spacingAndGlyphs">3</text>
<text x="449.5" y="280.0" text-anchor="start" font-size="14.67" textLength="28.6" lengthAdjust="spacingAndGlyphs">GND</text>
<text x="425.5" y="288.4" text-anchor="end" font-size="14.67" textLength="11.6" lengthAdjust="spacingAndGlyphs">10</text>
<text x="449.5" y="296.0" text-anchor="start" font-size="14.67" textLength="28.6" lengthAdjust="spacingAndGlyphs">GND</text>
<line x1="565" y1="36" x2="598" y2="36" stroke="#000" stroke-width="2" stroke-linecap="butt"/>
<line x1="565" y1="131" x2="599" y2="131" stroke="#000" stroke-width="2" stroke-linecap="butt"/>
<line x1="598" y1="20" x2="598" y2="132" stroke="#000" stroke-width="2" stroke-linecap="butt"/>
<line x1="589.5" y1="20" x2="607" y2="20" stroke="#000" stroke-width="2" stroke-linecap="butt"/>
<circle cx="598" cy="36" r="3" fill="#000"/>
<text x="583" y="17" text-anchor="start" font-size="14.67" textLength="27.6" lengthAdjust="spacingAndGlyphs">VCC</text>
<polyline points="565,163.5 630,163.5 630,82" fill="none" stroke="#000" stroke-width="2" stroke-linejoin="miter"/>
<polyline points="565,195 646,195 646,82" fill="none" stroke="#000" stroke-width="2" stroke-linejoin="miter"/>
<polyline points="565,211 598,211 598,226" fill="none" stroke="#000" stroke-width="2" stroke-linejoin="miter"/>
<line x1="581.5" y1="226.5" x2="614.5" y2="226.5" stroke="#000" stroke-width="2" stroke-linecap="butt"/>
<line x1="586.5" y1="231.5" x2="609.5" y2="231.5" stroke="#000" stroke-width="2" stroke-linecap="butt"/>
<line x1="591.5" y1="236.5" x2="604.5" y2="236.5" stroke="#000" stroke-width="2" stroke-linecap="butt"/>
<line x1="595.8" y1="241.5" x2="600.2" y2="241.5" stroke="#000" stroke-width="2" stroke-linecap="butt"/>
<text x="580" y="33.4" text-anchor="start" font-size="14.67" textLength="11.6" lengthAdjust="spacingAndGlyphs">20</text>
<text x="554" y="41.0" text-anchor="end" font-size="14.67" textLength="28.3" lengthAdjust="spacingAndGlyphs">VDD</text>
<text x="580" y="128.4" text-anchor="start" font-size="14.67" textLength="5.8" lengthAdjust="spacingAndGlyphs">8</text>
<text x="554" y="136.0" text-anchor="end" font-size="14.67" textLength="34.3" lengthAdjust="spacingAndGlyphs">VREF</text>
<text x="580" y="160.4" text-anchor="start" font-size="14.67" textLength="5.8" lengthAdjust="spacingAndGlyphs">9</text>
<text x="554" y="168.0" text-anchor="end" font-size="14.67" textLength="23.6" lengthAdjust="spacingAndGlyphs">RFB</text>
<polygon points="573.5,195 565.5,192 565.5,198" fill="#fff" stroke="#000" stroke-width="0.85" stroke-linejoin="miter"/>
<text x="580" y="192.4" text-anchor="start" font-size="14.67" textLength="11.6" lengthAdjust="spacingAndGlyphs">11</text>
<text x="554" y="200.0" text-anchor="end" font-size="14.67" textLength="37.4" lengthAdjust="spacingAndGlyphs">IOUT1</text>
<polygon points="573.5,211 565.5,208 565.5,214" fill="#fff" stroke="#000" stroke-width="0.85" stroke-linejoin="miter"/>
<text x="580" y="208.4" text-anchor="start" font-size="14.67" textLength="11.6" lengthAdjust="spacingAndGlyphs">12</text>
<text x="554" y="216.0" text-anchor="end" font-size="14.67" textLength="38.6" lengthAdjust="spacingAndGlyphs">IOUT2</text>
<rect x="614.5" y="35.5" width="79" height="46.5" fill="#f4f4f4" stroke="#262626" stroke-width="1.1"/>
<text x="614.3" y="32.3" text-anchor="start" font-size="14.67" textLength="14.6" lengthAdjust="spacingAndGlyphs">P5</text>
<text x="646.3" y="32.3" text-anchor="start" font-size="14.67" textLength="19.1" lengthAdjust="spacingAndGlyphs">DA</text>
<text x="633.8" y="72.6" text-anchor="start" font-size="13.4" transform="rotate(-90 633.8 72.6)">1</text>
<text x="649.8" y="72.6" text-anchor="start" font-size="13.4" transform="rotate(-90 649.8 72.6)">2</text>
<text x="665.8" y="72.6" text-anchor="start" font-size="13.4" transform="rotate(-90 665.8 72.6)">3</text>
<text x="681.8" y="72.6" text-anchor="start" font-size="13.4" transform="rotate(-90 681.8 72.6)">4</text>
<line x1="678" y1="82" x2="678" y2="131" stroke="#000" stroke-width="2" stroke-linecap="butt"/>
<line x1="661.5" y1="131" x2="694.5" y2="131" stroke="#000" stroke-width="2" stroke-linecap="butt"/>
<line x1="666.5" y1="136" x2="689.5" y2="136" stroke="#000" stroke-width="2" stroke-linecap="butt"/>
<line x1="671.5" y1="141" x2="684.5" y2="141" stroke="#000" stroke-width="2" stroke-linecap="butt"/>
<line x1="675.8" y1="146" x2="680.2" y2="146" stroke="#000" stroke-width="2" stroke-linecap="butt"/>
<line x1="662" y1="82" x2="662" y2="291" stroke="#000" stroke-width="2" stroke-linecap="butt"/>
<line x1="645.5" y1="291" x2="678.5" y2="291" stroke="#000" stroke-width="2" stroke-linecap="butt"/>
<line x1="650.5" y1="296" x2="673.5" y2="296" stroke="#000" stroke-width="2" stroke-linecap="butt"/>
<line x1="655.5" y1="301" x2="668.5" y2="301" stroke="#000" stroke-width="2" stroke-linecap="butt"/>
<line x1="659.8" y1="306" x2="664.2" y2="306" stroke="#000" stroke-width="2" stroke-linecap="butt"/>
<polygon points="647,206 677,206 662,221.5" fill="#000"/>
<line x1="647" y1="222.5" x2="677" y2="222.5" stroke="#000" stroke-width="3" stroke-linecap="butt"/>
<line x1="680" y1="210.5" x2="688" y2="218.0" stroke="#000" stroke-width="1.8" stroke-linecap="butt"/>
<polygon points="692.2,221.7 683.6,219.5 690.2,213.3" fill="#000"/>
<line x1="680" y1="224" x2="688" y2="231.5" stroke="#000" stroke-width="1.8" stroke-linecap="butt"/>
<polygon points="692.2,235.2 683.6,233 690.2,226.8" fill="#000"/>
<text x="691.5" y="222.5" text-anchor="start" font-size="14.67" textLength="24.1" lengthAdjust="spacingAndGlyphs">D12</text>
<text x="665.6" y="32.5" text-anchor="start" font-size="14.4" fill="#000" textLength="57.4" lengthAdjust="spacing" style="font-family:'Liberation Serif','Noto Serif CJK SC',serif;font-weight:600;">输出接口</text>
</svg>
</body></html>
